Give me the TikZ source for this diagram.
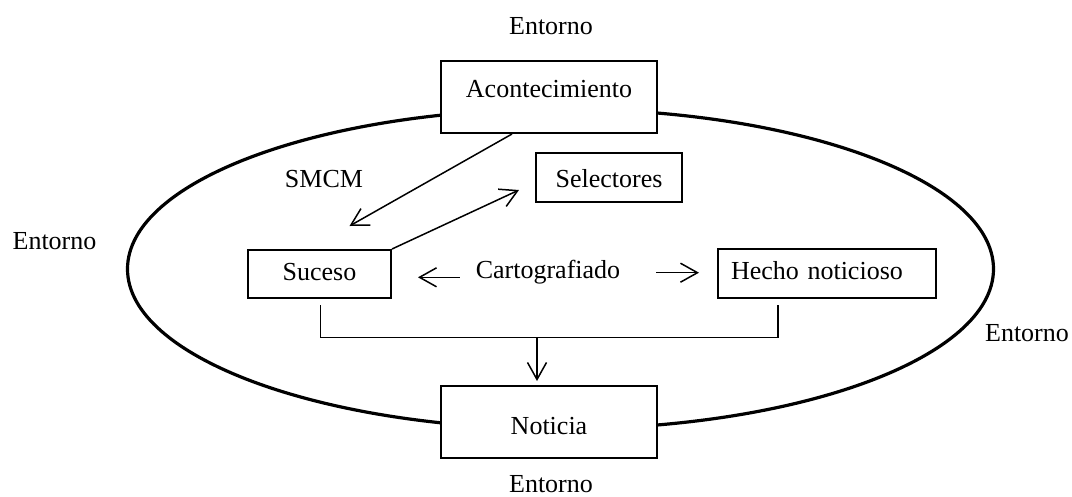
\documentclass[tikz,border=0pt]{standalone}
\usepackage{fontspec}
\setmainfont{Liberation Serif}
\usetikzlibrary{arrows.meta}

\begin{document}
\begin{tikzpicture}[x=1pt, y=-1pt, font=\fontsize{26}{31}\selectfont]
\tikzset{caja/.style={draw, fill=white, line width=2pt, inner sep=0pt, anchor=base},
         flecha/.style={line width=1.5pt, -{Straight Barb[length=17pt, width=19pt]}},
         texto/.style={anchor=base, inner sep=0pt}}
\useasboundingbox (0,0) rectangle (1072,496);
\draw[line width=3.2pt] (560.5,269) ellipse [x radius=433pt, y radius=160pt];
\node[caja, minimum width=216pt, text height=36pt, text depth=36pt] (acont) at (549,97) {Acontecimiento};
\node[caja, minimum width=146pt, text height=34pt, text depth=15pt] (sel) at (609,187) {Selectores};
\node[caja, minimum width=143pt, text height=30pt, text depth=18pt] (suceso) at (319.5,280) {Suceso};
\node[caja, text width=192pt, inner xsep=13pt, align=left, text height=30pt, text depth=19pt] (hecho) at (827,279) {Hecho noticioso};
\node[caja, minimum width=216pt, text height=48pt, text depth=24pt] (noticia) at (549,434) {Noticia};
\node[texto] (E1) at (551,34) {Entorno};
\node[texto] (E2) at (54.5,249) {Entorno};
\node[texto] (E3) at (1027,341) {Entorno};
\node[texto] (E4) at (551,492) {Entorno};
\node[texto] (smcm) at (324,187) {SMCM};
\node[texto] (carto) at (548,278) {Cartografiado};
\draw[flecha] ([xshift=-37pt]acont.south) -- ([xshift=30pt, yshift=23pt]suceso.north);
\draw[flecha] (suceso.north east) -- ([xshift=-16pt, yshift=-12.5pt]sel.west);
\draw[flecha] ([xshift=-16pt, yshift=0.7pt]carto.base west) -- ([xshift=26pt, yshift=-3.3pt]suceso.east);
\draw[flecha] ([xshift=36pt, yshift=5.3pt]carto.base east) -- ([xshift=-18pt, yshift=0.8pt]hecho.west);
\coordinate (junta) at (537,337.5);
\draw[line width=1.5pt] ([xshift=1pt, yshift=-6pt]suceso.south) |- (junta) -| ([xshift=-49pt, yshift=-6pt]hecho.south);
\draw[flecha] (junta) -- ([xshift=-12pt, yshift=4pt]noticia.north);
\end{tikzpicture}
\end{document}
